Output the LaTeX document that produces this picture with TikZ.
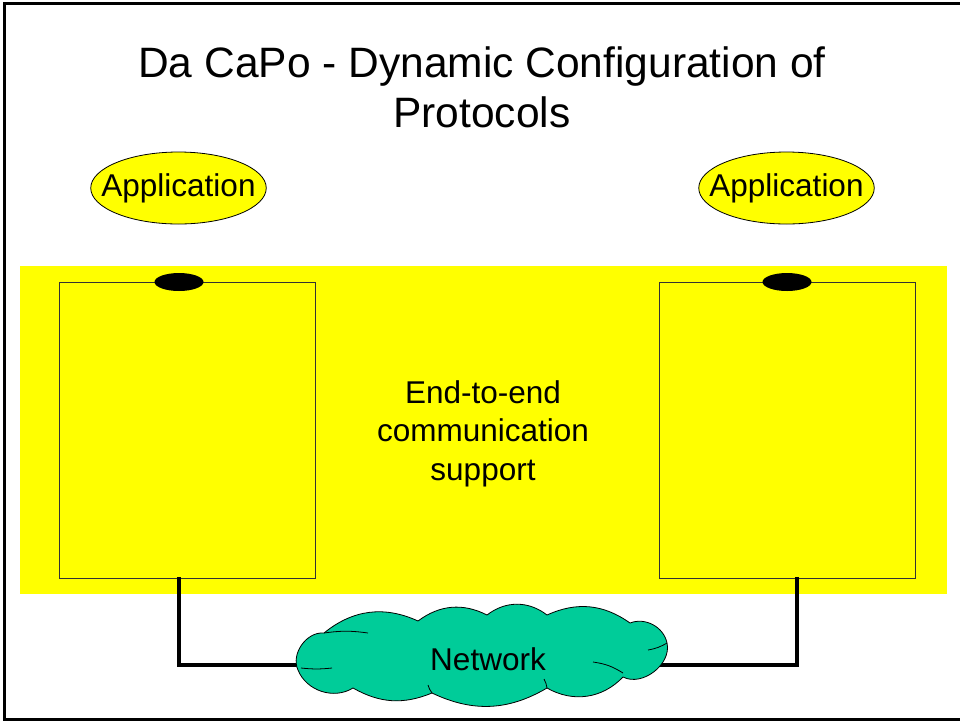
\documentclass[tikz,border=0pt]{standalone}
\usepackage{fontspec}
\setmainfont{Liberation Sans}
\usetikzlibrary{shapes.geometric}
\definecolor{bandyellow}{HTML}{FFFF00}
\definecolor{netgreen}{HTML}{00CC99}
\begin{document}
\begin{tikzpicture}[x=1pt,y=-1pt,
  bodytext/.style={font=\fontsize{31.5}{38.5}\selectfont, inner sep=0pt},
  appoval/.style={ellipse, draw=black, line width=0.8pt, fill=bandyellow,
    minimum width=175pt, minimum height=72pt, inner ysep=0pt, inner xsep=-15pt,
    font=\fontsize{31.5}{38.5}\selectfont},
  stackbox/.style={draw=black!80, line width=1pt, minimum width=256pt,
    minimum height=296pt, inner sep=0pt},
  port/.style={ellipse, fill=black, minimum width=49pt, minimum height=18pt, inner sep=0pt},
  link/.style={line width=4pt, line cap=rect, line join=miter},
  frame/.style={line width=3pt},
  cloudline/.style={draw=black, line width=0.8pt}]
  \useasboundingbox (0,0) rectangle (960,721);
  % page frame (open on the right)
  \draw[frame] (962,3) -- (4,3) -- (4,719) -- (962,719);
  % title
  \node[font=\fontsize{42.5}{50}\selectfont, align=center, inner sep=0pt, anchor=base]
    (title) at (482,127) {Da CaPo - Dynamic Configuration of\\Protocols};
  % applications
  \node[appoval] (appL) at (178.5,188) {Application};
  \node[appoval] (appR) at (786.5,188) {Application};
  % communication support band
  \node[fill=bandyellow, minimum width=927pt, minimum height=328pt, inner sep=0pt]
    (band) at (483.5,430) {};
  \node[stackbox] (boxL) at (187,430) {};
  \node[stackbox] (boxR) at (787,430) {};
  \node[port] (portL) at (179,282) {};
  \node[port] (portR) at (787,282) {};
  \node[bodytext, align=center, anchor=base] (ete) at (483,480)
    {End-to-end\\communication\\support};
  % network label (placed first so the links can refer to it)
  \node[bodytext] (net) at (488,659) {\phantom{Network}};
  \coordinate (tapR) at (797,282);
  \draw[link] (boxL.south -| portL) |- ([yshift=-6pt]net.center);
  \draw[link] (boxR.south -| tapR) |- ([yshift=-6pt]net.center);
  % network cloud outline
  \path[cloudline, fill=netgreen]
    (298,670) to[bend left=60] (324,633)
    to[bend left=32] (418,621)
    to[bend left=32] (487,615)
    to[bend left=38] (547,615)
    to[bend left=30] (630,623)
    to[bend left=50] (667,643)
    to[bend left=65] (623,677)
    to[bend left=38] (547,688)
    to[bend left=28] (432,693)
    to[bend left=26] (353,688)
    to[bend left=50] cycle;
  % inner folds of the cloud
  \draw[cloudline] (324,633) to[bend left=8] (368,633);
  \draw[cloudline] (648,650) to[bend right=10] (667,643);
  \draw[cloudline] (593,662) to[bend left=12] (623,673);
  \draw[cloudline] (301,668) to[bend right=6] (332,668);
  \draw[cloudline] (432,693) to[bend left=10] (428,685);
  \draw[cloudline] (547,688) to[bend right=10] (544,679);
  \node[bodytext] at (net) {Network};
\end{tikzpicture}
\end{document}
